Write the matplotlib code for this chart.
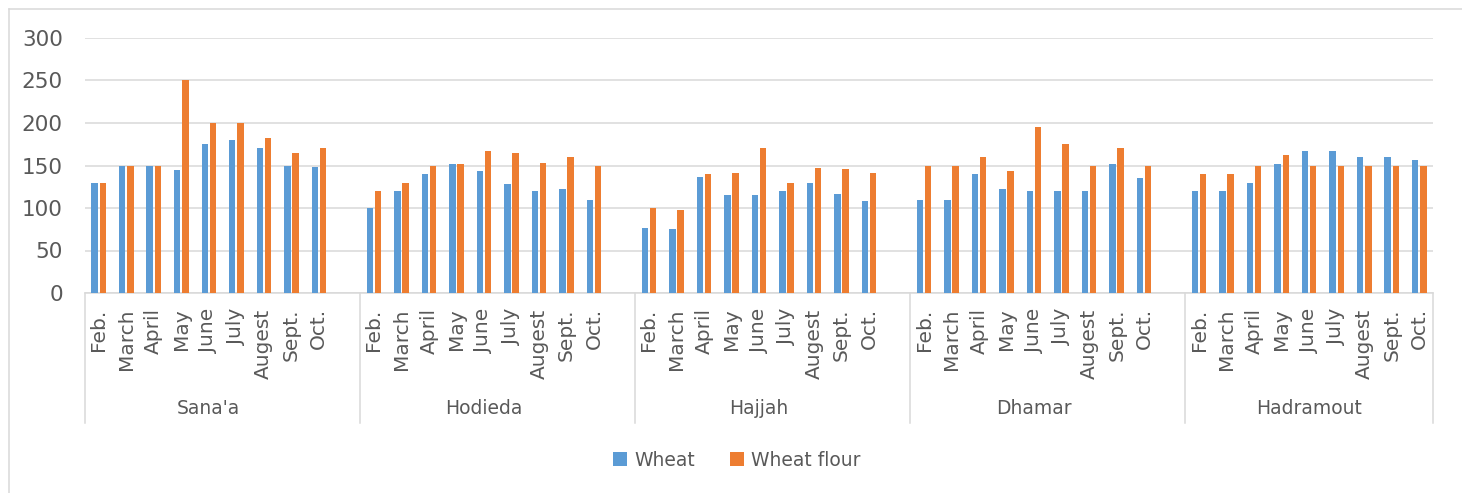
import matplotlib
matplotlib.use("Agg")
import matplotlib.pyplot as plt
import matplotlib.transforms as mtransforms
from matplotlib.lines import Line2D
import numpy as np

regions = ["Sana'a", "Hodieda", "Hajjah", "Dhamar", "Hadramout"]
months = ["Feb.", "March", "April", "May", "June", "July", "Augest", "Sept.", "Oct."]

wheat_sanaa = [130, 150, 150, 145, 175, 180, 170, 150, 148]
flour_sanaa = [130, 150, 150, 250, 200, 200, 182, 165, 170]
wheat_hodieda = [100, 120, 140, 152, 143, 128, 120, 122, 110]
flour_hodieda = [120, 130, 150, 152, 167, 165, 153, 160, 150]
wheat_hajjah = [77, 75, 136, 115, 115, 120, 130, 117, 108]
flour_hajjah = [100, 98, 140, 141, 170, 130, 147, 146, 141]
wheat_dhamar = [110, 110, 140, 122, 120, 120, 120, 152, 135]
flour_dhamar = [150, 150, 160, 143, 195, 175, 150, 170, 150]
wheat_hadramout = [120, 120, 130, 152, 167, 167, 160, 160, 157]
flour_hadramout = [140, 140, 150, 162, 150, 150, 150, 150, 150]

wheat = [wheat_sanaa, wheat_hodieda, wheat_hajjah, wheat_dhamar, wheat_hadramout]
flour = [flour_sanaa, flour_hodieda, flour_hajjah, flour_dhamar, flour_hadramout]

BLUE = "#5B9BD5"
ORANGE = "#ED7D31"
GRID = "#D9D9D9"
TXT = "#595959"

W, H = 1462, 493
fig = plt.figure(figsize=(W / 100, H / 100), dpi=100)
ax = fig.add_axes([85 / W, 1 - 293 / H, (1433 - 85) / W, (293 - 38) / H])

slot = 10
bw = 0.235
off = 0.147
xs_all, labels_all = [], []
for g in range(len(regions)):
    base = g * slot
    x = base + np.arange(len(months))
    ax.bar(x - off, wheat[g], width=bw, color=BLUE, zorder=3,
           label="Wheat" if g == 0 else None)
    ax.bar(x + off, flour[g], width=bw, color=ORANGE, zorder=3,
           label="Wheat flour" if g == 0 else None)
    xs_all.extend(x)
    labels_all.extend(months)

ax.set_xlim(-0.5, (len(regions) - 1) * slot + len(months) - 0.5)
ax.set_ylim(0, 300)
ax.set_yticks(np.arange(0, 301, 50))
ax.yaxis.grid(True, color=GRID, lw=1.1, zorder=0)
ax.set_axisbelow(True)
for s in ["top", "right", "left"]:
    ax.spines[s].set_visible(False)
ax.spines["bottom"].set_color(GRID)
ax.spines["bottom"].set_linewidth(1.1)
ax.tick_params(axis="y", length=0, pad=16, labelsize=15.5, labelcolor=TXT)
ax.set_xticks(xs_all)
ax.set_xticklabels(labels_all, rotation=90, fontsize=14.5, color=TXT)
ax.tick_params(axis="x", length=0, pad=11)

trans = mtransforms.blended_transform_factory(ax.transData, fig.transFigure)
y_top = 1 - 293 / H
y_bot = 1 - 423 / H
bounds = [-0.5] + [g * slot + 9.5 for g in range(len(regions) - 1)] + \
         [(len(regions) - 1) * slot + len(months) - 0.5]
for b in bounds:
    fig.add_artist(Line2D([b, b], [y_top, y_bot], transform=trans,
                          color=GRID, lw=1.1))
for g, r in enumerate(regions):
    cx = g * slot + (len(months) - 1) / 2
    fig.text(cx, 1 - 408 / H, r, transform=trans, ha="center", va="center",
             fontsize=13.5, color=TXT)

# chart border (only top and left visible in the crop)
bx, by = 8.5 / W, 1 - 8.5 / H
fig.add_artist(Line2D([bx, 1.0], [by, by], transform=fig.transFigure,
                      color=GRID, lw=1.1))
fig.add_artist(Line2D([bx, bx], [0.0, by], transform=fig.transFigure,
                      color=GRID, lw=1.1))

fig.legend(loc="center", bbox_to_anchor=(737 / W, 1 - 460 / H), ncol=2,
           frameon=False, fontsize=13.5, handlelength=0.7, handleheight=0.7,
           handletextpad=0.4, columnspacing=1.9, labelcolor=TXT)

fig.savefig("out.png", dpi=100)
